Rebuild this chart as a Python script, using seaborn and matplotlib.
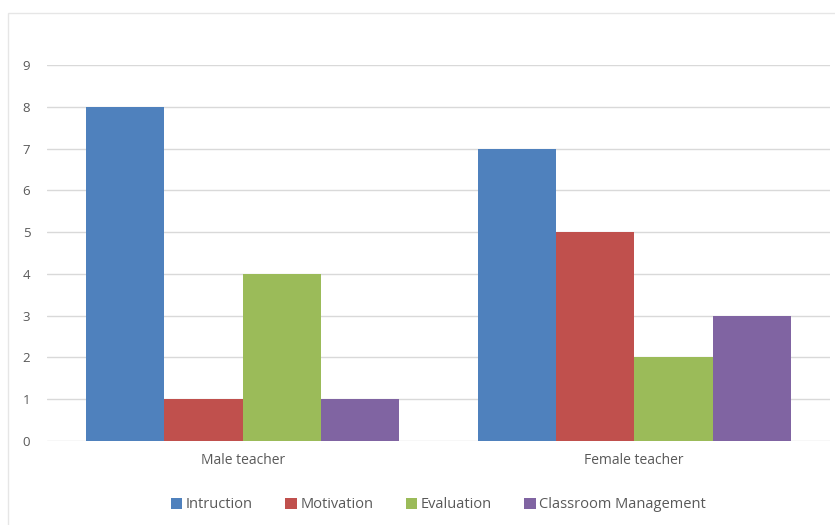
import pandas as pd
import seaborn as sns
import matplotlib.pyplot as plt
from matplotlib.patches import Rectangle

groups = ['Male teacher', 'Female teacher']
aspects = ['Intruction', 'Motivation', 'Evaluation', 'Classroom Management']
male_values = [8, 1, 4, 1]
female_values = [7, 5, 2, 3]
y_ticks = [0, 1, 2, 3, 4, 5, 6, 7, 8, 9]

colors = ['#4F81BD', '#C0504D', '#9BBB59', '#8064A2']

df = pd.DataFrame({
    'Group': [groups[0]] * len(aspects) + [groups[1]] * len(aspects),
    'Aspect': aspects * 2,
    'Value': male_values + female_values,
})

sns.set_style('white')
plt.rcParams['font.family'] = ['Open Sans', 'DejaVu Sans']

fig = plt.figure(figsize=(8.35, 5.25), dpi=100)
ax = fig.add_axes([47 / 835, 84 / 525, 783 / 835, 376 / 525])

sns.barplot(data=df, x='Group', y='Value', hue='Aspect', palette=colors,
            width=0.8, gap=0, saturation=1, edgecolor='none', ax=ax)

ax.set_ylim(0, 9)
ax.set_xlim(-0.5, 1.5)
ax.set_yticks(y_ticks)
ax.yaxis.grid(True, color='#D9D9D9', linewidth=1)
ax.set_axisbelow(True)
for s in ax.spines.values():
    s.set_visible(False)
ax.set_xlabel('')
ax.set_ylabel('')
ax.tick_params(axis='both', length=0, colors='#595959')
ax.tick_params(axis='x', labelsize=10, pad=9)
ax.tick_params(axis='y', labelsize=9.5, pad=12)

ax.legend(loc='upper center', bbox_to_anchor=(0.5, -0.115), ncol=4, frameon=False,
          fontsize=10.5, handlelength=0.8, handleheight=0.8, handletextpad=0.25,
          columnspacing=2.2, labelcolor='#595959')

# light chart frame like the spreadsheet export
fig.patches.append(Rectangle((8 / 835, -0.1), 1.0, (525 - 13) / 525 + 0.1,
                             transform=fig.transFigure, fill=False,
                             edgecolor='#E6E6E6', linewidth=1))

fig.savefig('out.png', dpi=100)
